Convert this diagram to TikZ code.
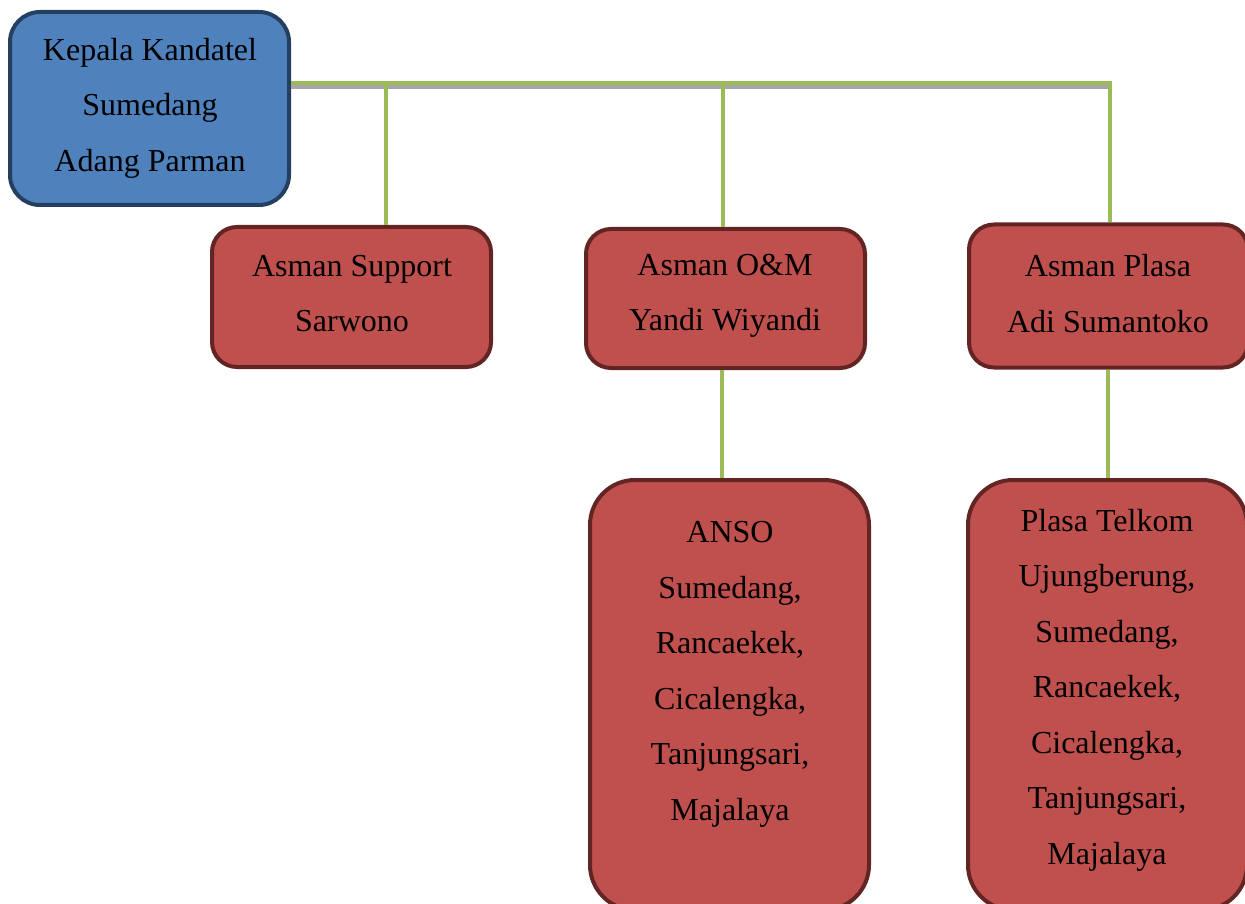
\documentclass[tikz,border=0pt]{standalone}
\usepackage{fontspec}
\setmainfont{Liberation Serif}
\definecolor{bluefill}{HTML}{4F81BD}
\definecolor{blueline}{HTML}{243F60}
\definecolor{redfill}{HTML}{C0504D}
\definecolor{redline}{HTML}{632523}
\definecolor{conngreen}{HTML}{9BBB59}
\definecolor{shadowgray}{HTML}{A6A6A6}
\tikzset{
  boxbase/.style={draw, line width=4pt, minimum width=279pt, inner sep=0pt},
  bluebox/.style={boxbase, fill=bluefill, draw=blueline, rounded corners=30pt},
  redbox/.style={boxbase, fill=redfill, draw=redline, rounded corners=25pt},
  tallbox/.style={boxbase, fill=redfill, draw=redline, rounded corners=45pt},
  txt/.style={align=center, inner sep=0pt, font=\fontsize{32}{55.5}\selectfont},
  conn/.style={draw=conngreen, line width=4pt},
  connshadow/.style={draw=shadowgray, line width=4pt}
}
\begin{document}
\begin{tikzpicture}[x=1pt,y=-1pt]
\useasboundingbox (0,0) rectangle (1245,904);
\clip (0,0) rectangle (1245,904);
% boxes
\node[bluebox, minimum height=193pt] (kepala) at (149.5,108.5) {};
\node[redbox, minimum height=140pt] (support) at (351.5,297) {};
\node[redbox, minimum height=139pt] (om) at (725.5,298.5) {};
\node[redbox, minimum height=143pt] (plasa) at (1108.5,296) {};
\node[tallbox, minimum height=430pt] (anso) at (729.5,695) {};
\node[tallbox, minimum height=430pt] (telkom) at (1107.5,695) {};
% texts
\node[txt] (tkepala) at (150,108) {Kepala Kandatel\\Sumedang\\Adang Parman};
\node[txt] (tsupport) at (352,293.5) {Asman Support\\Sarwono};
\node[txt] (tom) at (725,296) {Asman O\&M\\Yandi Wiyandi};
\node[txt] (tplasa) at (1108,293.5) {Asman Plasa\\Adi Sumantoko};
\node[txt] (tanso) at (730,674.5) {ANSO\\Sumedang,\\Rancaekek,\\Cicalengka,\\Tanjungsari,\\Majalaya};
\node[txt] (ttelkom) at (1107,690) {Plasa Telkom\\Ujungberung,\\Sumedang,\\Rancaekek,\\Cicalengka,\\Tanjungsari,\\Majalaya};
% connectors
\coordinate (bus) at (1110,83);
\coordinate (j1) at (386,83);
\coordinate (j2) at (723,83);
\path[connshadow] (kepala.east |- 0,87) -- (1110,87);
\path[conn] (kepala.east |- bus) -- (bus) -- (bus |- plasa.north);
\path[conn] (j1) -- (j1 |- support.north);
\path[conn] (j2) -- (j2 |- om.north);
\path[conn] (722,0 |- om.south) -- (722,0 |- anso.north);
\path[conn] (1108,0 |- plasa.south) -- (1108,0 |- telkom.north);
\end{tikzpicture}
\end{document}
